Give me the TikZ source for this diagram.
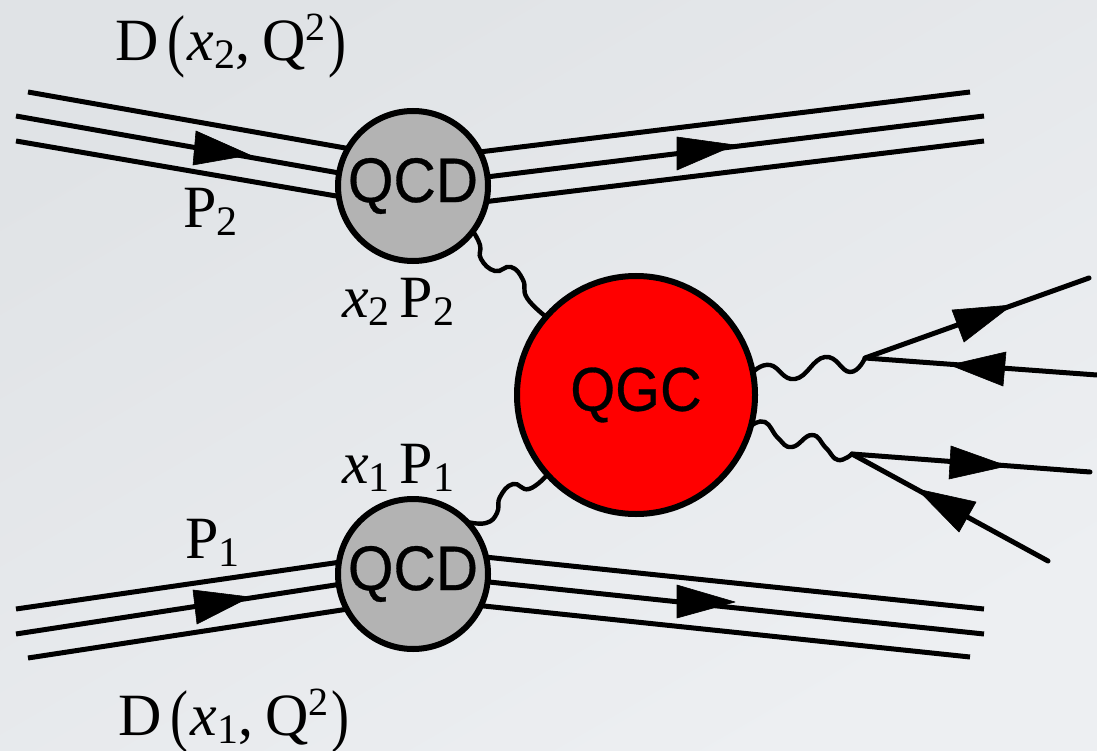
\documentclass[tikz,border=0pt]{standalone}
\usepackage{fontspec}
\setmainfont{Liberation Serif}
\newfontfamily\blobfont[FakeBold=0.5]{Liberation Sans}
\usetikzlibrary{calc}
\definecolor{bgA}{HTML}{E0E3E6}
\definecolor{bgB}{HTML}{EDEFF2}
\definecolor{blobgray}{HTML}{B3B3B3}
\newcommand{\lbsub}[1]{\raisebox{-8pt}{\fontsize{42}{42}\selectfont #1}}
\newcommand{\lbsup}[1]{\raisebox{20pt}{\fontsize{40}{40}\selectfont #1}}
\newcommand{\lbx}{\textit{x}}
\newcommand{\lbnarrow}[1]{\scalebox{.93}[1]{#1}}
\newcommand{\lbparen}[1]{\raisebox{-3pt}{\scalebox{.9}[1.15]{#1}}}
\begin{document}
\begin{tikzpicture}[x=1pt,y=-1pt,
  blob/.style={circle,draw=black,line width=6pt,inner sep=0pt,outer sep=0pt,font=\blobfont\fontsize{63}{63}\selectfont,text=black},
  qcdblob/.style={blob,fill=blobgray,minimum size=150pt},
  qgcblob/.style={blob,fill=red,minimum size=238pt,font=\blobfont\fontsize{62}{62}\selectfont},
  leg/.style={line width=5pt,draw=black},
  wave/.style={line width=4.4pt,draw=black,line cap=round,smooth,tension=0.8},
  head/.style={fill=black,draw=black,line width=.6pt,line join=round},
  lab/.style={anchor=base west,inner sep=0pt,font=\fontsize{60}{60}\selectfont,text=black}]
\shade[top color=bgA,bottom color=bgB,shading angle=30] (0,0) rectangle (1097,751);
\path[use as bounding box] (0,0) rectangle (1097,751);

% free ends
\coordinate (a1) at (28,92);
\coordinate (a2) at (16,116);
\coordinate (a3) at (16,141);
\coordinate (b1) at (970,92);
\coordinate (b2) at (984,116);
\coordinate (b3) at (984,141);
\coordinate (c1) at (16,609);
\coordinate (c2) at (16,634);
\coordinate (c3) at (28,658);
\coordinate (d1) at (984,609);
\coordinate (d2) at (984,634);
\coordinate (d3) at (970,657);
\coordinate (v1) at (865,358);
\coordinate (v2) at (852,454);
\coordinate (e1) at (1089,278);
\coordinate (e2) at (1097,375);
\coordinate (e3) at (1090,472);
\coordinate (e4) at (1048,561);

% blobs
\node[qcdblob] (qtop) at (413,186) {\lbnarrow{QCD}};
\node[qcdblob] (qbot) at (413,574) {\lbnarrow{QCD}};
\node[qgcblob] (qgc) at (636,395) {\lbnarrow{QGC}};

% legs
\draw[leg] (a1) -- (qtop.150);
\draw[leg] (a2) -- (qtop.170);
\draw[leg] (a3) -- (qtop.188);
\draw[leg] (qtop.27) -- (b1);
\draw[leg] (qtop.7) -- (b2);
\draw[leg] (qtop.-12) -- (b3);
\draw[leg] (c1) -- (qbot.171);
\draw[leg] (c2) -- (qbot.188);
\draw[leg] (c3) -- (qbot.208);
\draw[leg] (qbot.13) -- (d1);
\draw[leg] (qbot.-6) -- (d2);
\draw[leg] (qbot.-25) -- (d3);
\draw[leg,line cap=round] (v1) -- (e1);
\draw[leg] (v1) -- (e2);
\draw[leg,line cap=round] (v2) -- (e3);
\draw[leg,line cap=round] (v2) -- (e4);

% wavy connectors
\draw[wave] plot coordinates {(qtop.-37) (480,245) (481,259) (495,271) (511,267) (523,280) (527,298) (qgc.139)};
\draw[wave] plot coordinates {(qbot.44) (486,523) (497,513) (500,497) (513,484) (529,489) (qgc.-138)};
\draw[wave] plot coordinates {(qgc.11) (770,365) (795,379) (825,357) (850,372) (v1)};
\draw[wave] plot coordinates {(qgc.-15) (765,422) (778,438) (792,447) (812,435) (826,448) (838,460) (v2)};

% arrowheads
\fill[head] (196,131) -- (250,155) -- (193,165) -- cycle;
\fill[head] (677,137) -- (735,145) -- (677,170) -- cycle;
\fill[head] (193,590) -- (250,597) -- (197,624) -- cycle;
\fill[head] (677,585) -- (735,602) -- (677,618) -- cycle;
\fill[head] (952,310) -- (1012,305) -- (964,342) -- cycle;
\fill[head] (1006,352) -- (950,365) -- (1003,386) -- cycle;
\fill[head] (951,446) -- (1007,466) -- (949,479) -- cycle;
\fill[head] (976,502) -- (917,489) -- (959,532) -- cycle;

% labels
\node[lab] (l1) at (115,61) {D\hspace{9pt}\lbparen{(}\hspace{2pt}\lbx\lbsub{2},\hspace{12pt}Q\lbsup{2}\hspace{3pt}\lbparen{)}};
\node[lab] (l2) at (118,735) {D\hspace{9pt}\lbparen{(}\hspace{2pt}\lbx\lbsub{1},\hspace{12pt}Q\lbsup{2}\hspace{3pt}\lbparen{)}};
\node[lab] (l3) at (183,228) {P\lbsub{2}};
\node[lab] (l4) at (185,558) {P\lbsub{1}};
\node[lab] (l5) at (342,317) {\lbx\lbsub{2}\,P\lbsub{2}};
\node[lab] (l6) at (342,483) {\lbx\lbsub{1}\,P\lbsub{1}};
\end{tikzpicture}
\end{document}
